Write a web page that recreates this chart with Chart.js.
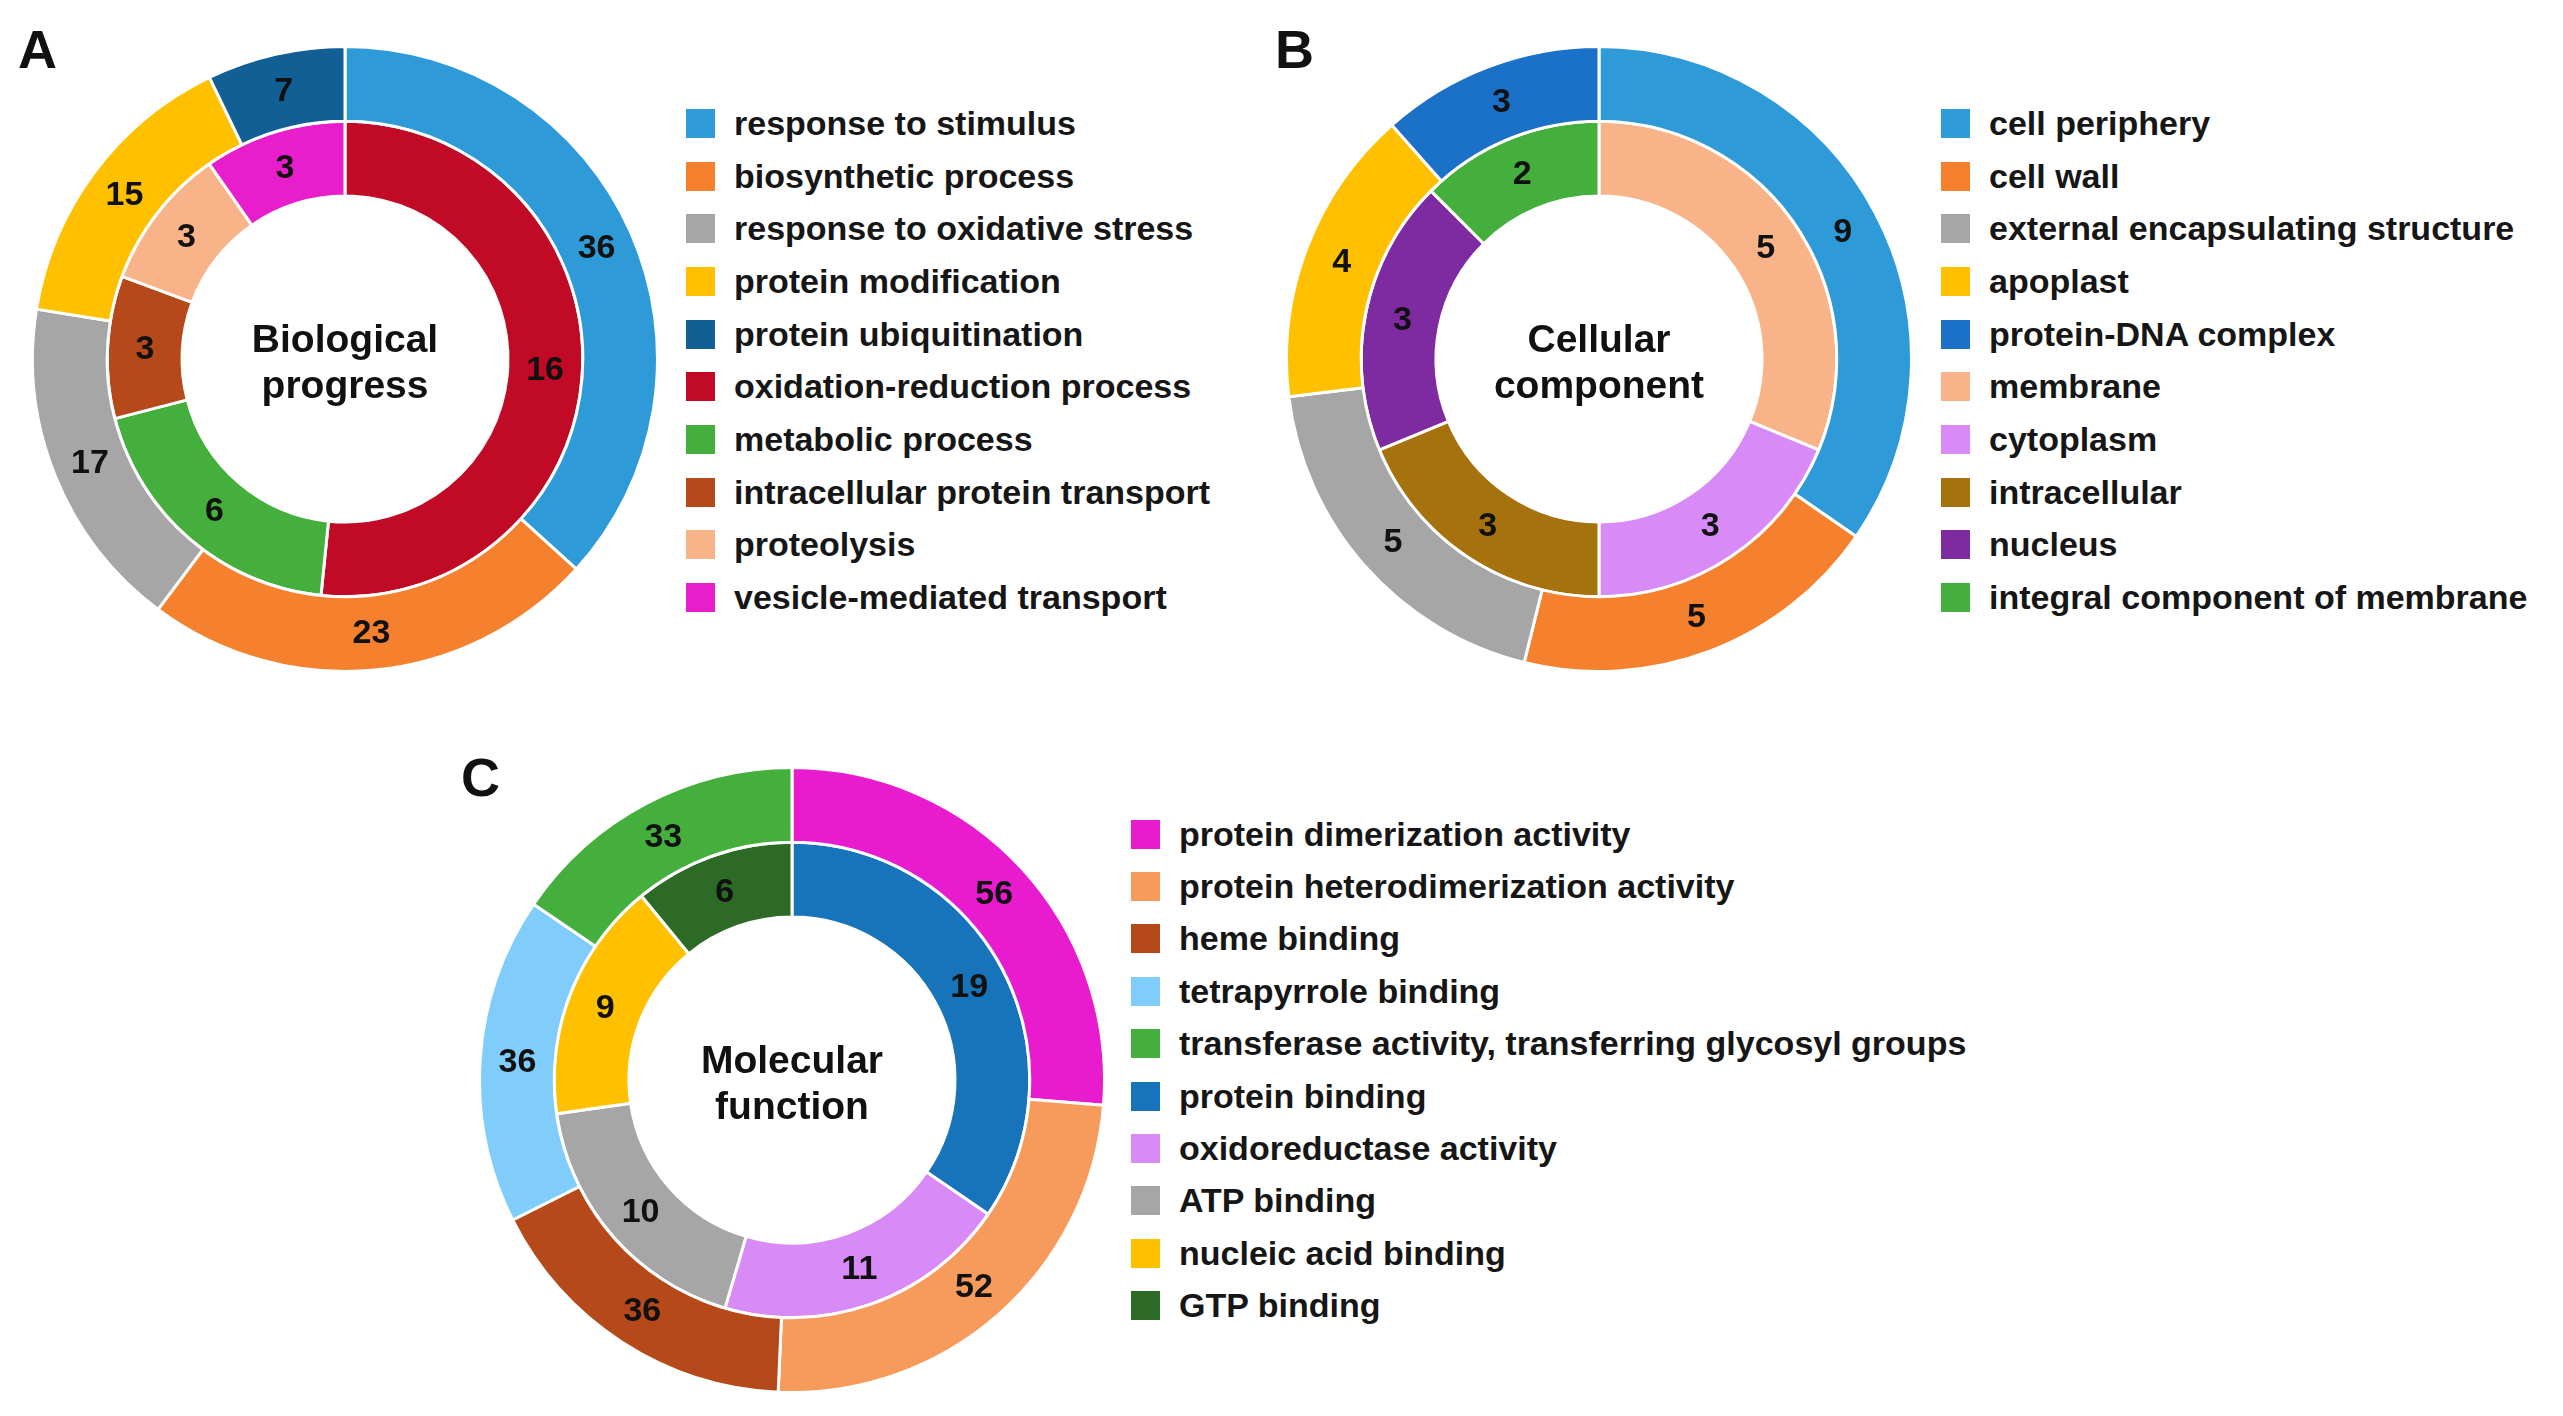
<!DOCTYPE html>
<html>
<head>
<meta charset="utf-8">
<script src="https://cdn.jsdelivr.net/npm/chart.js@4.4.1/dist/chart.umd.min.js"></script>
<style>
  html, body { margin: 0; padding: 0; background: #fff; }
  body { width: 2563px; height: 1416px; position: relative; overflow: hidden;
         font-family: "Liberation Sans", Arial, sans-serif; }
  .panel-letter { position: absolute; font-weight: bold; font-size: 54px; color: #111; line-height: 1; }
  canvas { position: absolute; }
  .legend { position: absolute; }
  .legend .row { display: flex; align-items: center; white-space: nowrap;
                 font-weight: bold; font-size: 34px; color: #161616; }
  .legend .sw { width: 29px; height: 29px; flex: none; }
</style>
</head>
<body>
<div class="panel-letter" style="left:18px; top:22px;">A</div>
<div class="panel-letter" style="left:1275px; top:22px;">B</div>
<div class="panel-letter" style="left:461px; top:750px;">C</div>

<canvas id="chartA" width="628" height="628" style="left:31px; top:45px;"></canvas>
<canvas id="chartB" width="628" height="628" style="left:1285px; top:45px;"></canvas>
<canvas id="chartC" width="628" height="628" style="left:478px; top:766px;"></canvas>

<div class="legend" id="legendA" style="left:686px; top:97px;"></div>
<div class="legend" id="legendB" style="left:1941px; top:97px;"></div>
<div class="legend" id="legendC" style="left:1131px; top:808px;"></div>

<script>
// ---------- Panel A: Biological progress ----------
const bpTitle = ["Biological", "progress"];
const bpOuterLabels = ["response to stimulus", "biosynthetic process", "response to oxidative stress", "protein modification", "protein ubiquitination"];
const bpOuterValues = [36, 23, 17, 15, 7];
const bpInnerLabels = ["oxidation-reduction process", "metabolic process", "intracellular protein transport", "proteolysis", "vesicle-mediated transport"];
const bpInnerValues = [16, 6, 3, 3, 3];
const bpOuterColors = ["#2E9BD8", "#F5812F", "#A6A6A6", "#FFC000", "#125F96"];
const bpInnerColors = ["#C10A25", "#44AF3C", "#B5491A", "#F8B389", "#E81ECC"];

// ---------- Panel B: Cellular component ----------
const ccTitle = ["Cellular", "component"];
const ccOuterLabels = ["cell periphery", "cell wall", "external encapsulating structure", "apoplast", "protein-DNA complex"];
const ccOuterValues = [9, 5, 5, 4, 3];
const ccInnerLabels = ["membrane", "cytoplasm", "intracellular", "nucleus", "integral component of membrane"];
const ccInnerValues = [5, 3, 3, 3, 2];
const ccOuterColors = ["#2E9BD8", "#F5812F", "#A6A6A6", "#FFC000", "#1B70C8"];
const ccInnerColors = ["#F8B389", "#D88BF7", "#A5720E", "#7E2AA1", "#44AF3C"];

// ---------- Panel C: Molecular function ----------
const mfTitle = ["Molecular", "function"];
const mfOuterLabels = ["protein dimerization activity", "protein heterodimerization activity", "heme binding", "tetrapyrrole binding", "transferase activity, transferring glycosyl groups"];
const mfOuterValues = [56, 52, 36, 36, 33];
const mfInnerLabels = ["protein binding", "oxidoreductase activity", "ATP binding", "nucleic acid binding", "GTP binding"];
const mfInnerValues = [19, 11, 10, 9, 6];
const mfOuterColors = ["#E81CCE", "#F79B5C", "#B5491A", "#80CCFB", "#44AF3C"];
const mfInnerColors = ["#1874BA", "#D88BF7", "#A6A6A6", "#FFC000", "#2C6A25"];

const FONT = '"Liberation Sans", Arial, sans-serif';

const ringLabels = {
  id: 'ringLabels',
  afterDatasetsDraw(chart) {
    const ctx = chart.ctx;
    ctx.save();
    ctx.fillStyle = '#111';
    ctx.textAlign = 'center';
    ctx.textBaseline = 'middle';
    ctx.font = 'bold 34px ' + FONT;
    chart.data.datasets.forEach((ds, di) => {
      const meta = chart.getDatasetMeta(di);
      meta.data.forEach((arc, i) => {
        const p = arc.tooltipPosition();
        ctx.fillText(String(ds.data[i]), p.x, p.y + 1);
      });
    });
    // centre title
    const title = chart.options.plugins.centerTitle.lines;
    const c = centreOf(chart);
    ctx.font = 'bold 39px ' + FONT;
    ctx.textBaseline = 'alphabetic';
    ctx.fillText(title[0], c.x, c.y - 7);
    ctx.fillText(title[1], c.x, c.y + 39);
    ctx.restore();
  }
};
function centreOf(chart) {
  const a = chart.getDatasetMeta(0).data[0];
  return { x: a.x, y: a.y };
}

function makeChart(id, title, outerLabels, outerValues, outerColors, innerLabels, innerValues, innerColors) {
  return new Chart(document.getElementById(id), {
    type: 'doughnut',
    data: {
      labels: outerLabels,
      datasets: [
        { data: outerValues, backgroundColor: outerColors, borderColor: '#fff', borderWidth: 3, labels: outerLabels },
        { data: innerValues, backgroundColor: innerColors, borderColor: '#fff', borderWidth: 3, labels: innerLabels }
      ]
    },
    options: {
      responsive: false,
      animation: false,
      cutout: 163,
      layout: { padding: 0 },
      plugins: {
        legend: { display: false },
        tooltip: { enabled: false },
        centerTitle: { lines: title }
      }
    },
    plugins: [ringLabels]
  });
}

function makeLegend(id, labels, colors, rowH) {
  const el = document.getElementById(id);
  labels.forEach((lab, i) => {
    const row = document.createElement('div');
    row.className = 'row';
    row.style.height = rowH + 'px';
    const sw = document.createElement('span');
    sw.className = 'sw';
    sw.style.background = colors[i];
    const tx = document.createElement('span');
    tx.style.marginLeft = '19px';
    tx.textContent = lab;
    row.appendChild(sw);
    row.appendChild(tx);
    el.appendChild(row);
  });
}

makeChart('chartA', bpTitle, bpOuterLabels, bpOuterValues, bpOuterColors, bpInnerLabels, bpInnerValues, bpInnerColors);
makeChart('chartB', ccTitle, ccOuterLabels, ccOuterValues, ccOuterColors, ccInnerLabels, ccInnerValues, ccInnerColors);
makeChart('chartC', mfTitle, mfOuterLabels, mfOuterValues, mfOuterColors, mfInnerLabels, mfInnerValues, mfInnerColors);

makeLegend('legendA', bpOuterLabels.concat(bpInnerLabels), bpOuterColors.concat(bpInnerColors), 52.7);
makeLegend('legendB', ccOuterLabels.concat(ccInnerLabels), ccOuterColors.concat(ccInnerColors), 52.7);
makeLegend('legendC', mfOuterLabels.concat(mfInnerLabels), mfOuterColors.concat(mfInnerColors), 52.4);
</script>
</body>
</html>
